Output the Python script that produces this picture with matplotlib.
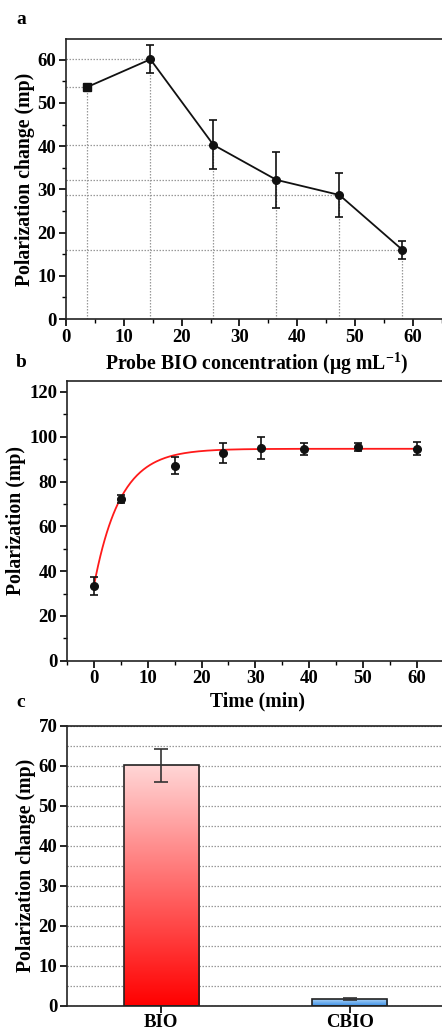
import numpy as np
import matplotlib
matplotlib.use("Agg")
import matplotlib.pyplot as plt
from matplotlib.colors import LinearSegmentedColormap
from matplotlib.ticker import MultipleLocator

plt.rcParams['font.family'] = ['Liberation Serif', 'DejaVu Serif']
plt.rcParams['font.weight'] = 'bold'
plt.rcParams['mathtext.fontset'] = 'custom'
plt.rcParams['mathtext.rm'] = 'Liberation Serif:bold'

# ---- panel a: probe concentration ----
conc = [3.7, 14.6, 25.5, 36.4, 47.3, 58.2]
conc_pol = [53.7, 60.1, 40.3, 32.2, 28.7, 16.0]
conc_err = [0.4, 3.2, 5.7, 6.4, 5.2, 2.1]

# ---- panel b: time course ----
time_min = [0, 5, 15, 24, 31, 39, 49, 60]
time_pol = [33.3, 72.0, 87.0, 92.7, 95.0, 94.5, 95.5, 94.7]
time_err = [4.0, 1.8, 3.8, 4.5, 4.8, 2.7, 1.7, 2.8]
# exponential rise fit: y = plateau - amp * exp(-k t)
fit_plateau, fit_amp, fit_k = 94.6, 61.2, 0.205

# ---- panel c: BIO vs CBIO ----
probes = ['BIO', 'CBIO']
probe_pol = [60.1, 1.7]
probe_err = [4.1, 0.2]

W, H = 442, 1032
fig = plt.figure(figsize=(W / 100, H / 100), dpi=100)

TICK_FS = 13.5
LAB_FS = 14.2


def style_axes(ax):
    for s in ax.spines.values():
        s.set_linewidth(1.2)
        s.set_color('#222222')
    ax.tick_params(which='major', direction='out', length=5, width=1.2, labelsize=TICK_FS, pad=2)
    ax.tick_params(which='minor', direction='out', length=3, width=1.0)
    for lab in ax.get_xticklabels() + ax.get_yticklabels():
        lab.set_fontweight('bold')


# ================= a =================
axa = fig.add_axes([66 / W, 1 - 319 / H, 381.5 / W, 280 / H])
axa.set_xlim(0, 66)
axa.set_ylim(0, 64.8)
for x, y in zip(conc, conc_pol):
    axa.plot([0, x], [y, y], color='#999999', ls=(0, (1.2, 1.2)), lw=0.9, zorder=1)
    axa.plot([x, x], [0, y], color='#999999', ls=(0, (1.2, 1.2)), lw=0.9, zorder=1)
axa.errorbar(conc, conc_pol, yerr=conc_err, color='#111111', lw=1.3, elinewidth=1.2,
             capsize=3, capthick=1.2, marker='o', ms=5.5, zorder=3)
axa.plot(conc[:1], conc_pol[:1], 's', color='#111111', ms=5.5, zorder=4)
axa.xaxis.set_major_locator(MultipleLocator(10))
axa.xaxis.set_minor_locator(MultipleLocator(5))
axa.yaxis.set_major_locator(MultipleLocator(10))
axa.yaxis.set_minor_locator(MultipleLocator(5))
style_axes(axa)
axa.set_ylabel('Polarization change (mp)', fontsize=LAB_FS, fontweight='bold', labelpad=2)
axa.set_xlabel(r'Probe BIO concentration (μg mL$^{\mathregular{-1}}$)', fontsize=LAB_FS,
               fontweight='bold', labelpad=3)
fig.text(16 / W, 1 - 24 / H, 'a', fontsize=14, fontweight='bold')

# ================= b =================
axb = fig.add_axes([67 / W, 1 - 660.7 / H, 382 / W, 280 / H])
axb.set_xlim(-5, 66)
axb.set_ylim(0, 125)
t_fit = np.linspace(0, 60, 300)
axb.plot(t_fit, fit_plateau - fit_amp * np.exp(-fit_k * t_fit), color='#ff1a1a', lw=1.3, zorder=2)
axb.errorbar(time_min, time_pol, yerr=time_err, fmt='o', color='#111111', ms=5.5,
             elinewidth=1.2, capsize=3, capthick=1.2, zorder=3)
axb.xaxis.set_major_locator(MultipleLocator(10))
axb.xaxis.set_minor_locator(MultipleLocator(5))
axb.yaxis.set_major_locator(MultipleLocator(20))
axb.yaxis.set_minor_locator(MultipleLocator(10))
style_axes(axb)
axb.set_ylabel('Polarization (mp)', fontsize=LAB_FS, fontweight='bold', labelpad=2)
axb.set_xlabel('Time (min)', fontsize=LAB_FS, fontweight='bold', labelpad=3)
fig.text(16 / W, 1 - 367 / H, 'b', fontsize=14, fontweight='bold')

# ================= c =================
axc = fig.add_axes([67 / W, 1 - 1005.7 / H, 377 / W, 280 / H])
axc.set_xlim(-0.5, 1.5)
axc.set_ylim(0, 70)
axc.yaxis.set_major_locator(MultipleLocator(10))
axc.yaxis.set_minor_locator(MultipleLocator(5))
axc.grid(True, which='both', axis='y', color='#999999', ls=(0, (1.2, 1.2)), lw=0.9)
axc.set_axisbelow(True)
pos = np.arange(len(probes))
bars = axc.bar(pos, probe_pol, width=0.4, facecolor='none', edgecolor='#222222', lw=1.2, zorder=3)
cmaps = [LinearSegmentedColormap.from_list('r', ['#ff0000', '#ffd6d6']),
         LinearSegmentedColormap.from_list('b', ['#3a8ee6', '#a9d2f7'])]
for b, cm in zip(bars, cmaps):
    x0, w, h = b.get_x(), b.get_width(), b.get_height()
    grad = np.linspace(0, 1, 256).reshape(-1, 1)
    im = axc.imshow(grad, cmap=cm, origin='lower', aspect='auto',
                    extent=[x0, x0 + w, 0, h], zorder=2)
    im.set_clip_path(b)
axc.set_xlim(-0.5, 1.5)
axc.set_ylim(0, 70)
axc.errorbar(pos, probe_pol, yerr=probe_err, fmt='none', ecolor='#333333',
             elinewidth=1.2, capsize=5, capthick=1.2, zorder=4)
axc.set_xticks(pos)
axc.set_xticklabels(probes)
style_axes(axc)
axc.tick_params(axis='y', which='minor', length=0)
axc.tick_params(axis='x', labelsize=13.5, pad=1)
axc.set_ylabel('Polarization change (mp)', fontsize=LAB_FS, fontweight='bold', labelpad=2)
fig.text(16 / W, 1 - 707 / H, 'c', fontsize=14, fontweight='bold')

fig.savefig('out.png', dpi=100)
